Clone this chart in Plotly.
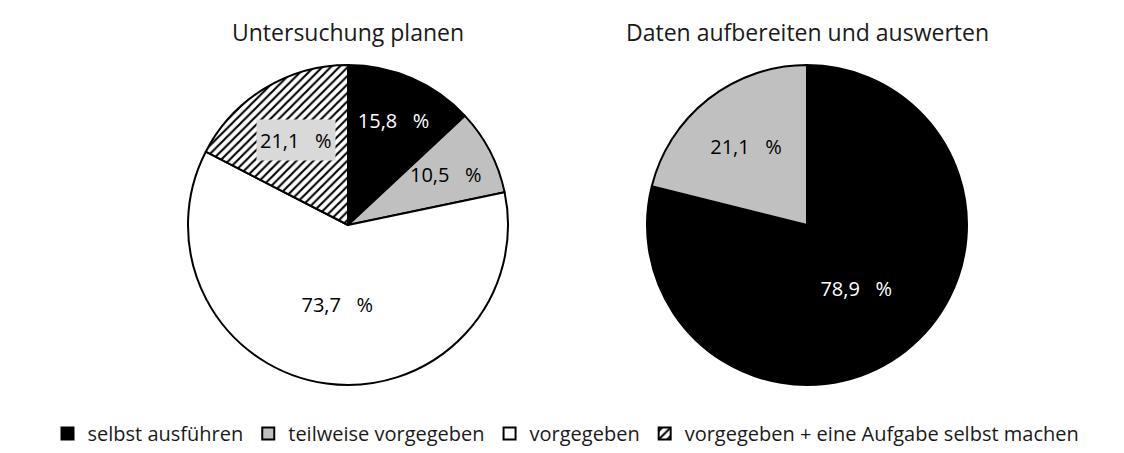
import math
import plotly.graph_objects as go

labels_left = ["selbst ausführen", "teilweise vorgegeben", "vorgegeben",
               "vorgegeben + eine Aufgabe selbst machen"]
values_left = [15.8, 10.5, 73.7, 21.1]
labels_right = ["selbst ausführen", "teilweise vorgegeben"]
values_right = [78.9, 21.1]
titles = ["Untersuchung planen", "Daten aufbereiten und auswerten"]

FONT = "Open Sans"
HATCH = "vorgegeben + eine Aufgabe selbst machen"
colors = {"selbst ausführen": "#000000", "teilweise vorgegeben": "#c0c0c0",
          "vorgegeben": "#ffffff", HATCH: "#ffffff"}
text_colors = {"selbst ausführen": "#ffffff", "teilweise vorgegeben": "#000000",
               "vorgegeben": "#000000", HATCH: "#000000"}
shapes = {HATCH: "/"}

SEP = "\u00a0\u00a0\u00a0"


def fmt(v):
    return f"{v:.1f}".replace(".", ",") + SEP + "%"


# page offset (browser body margin) and figure size
OFF = 8
W, H = 1124 - OFF, 453 - OFF
R = 160
centers = [(348 - OFF, 225 - OFF), (807 - OFF, 225 - OFF)]

# slices of the left pie whose labels are drawn as annotations (too small for
# plotly's inside text, or boxed): label -> (radius fraction, box colour)
ann_left = {"teilweise vorgegeben": (0.69, None), HATCH: (0.62, "#d9d9d9")}


def dom(c):
    cx, cy = c
    return [(cx - R) / W, (cx + R) / W], [1 - (cy + R) / H, 1 - (cy - R) / H]


def pie(labels, values, c, skip=()):
    dx, dy = dom(c)
    texts = ["" if l in skip else fmt(v) for l, v in zip(labels, values)]
    return go.Pie(
        labels=labels, values=values, sort=False, direction="clockwise", rotation=0,
        domain=dict(x=dx, y=dy),
        marker=dict(colors=[colors[l] for l in labels],
                    line=dict(color="#000000", width=2),
                    pattern=dict(shape=[shapes.get(l, "") for l in labels],
                                 fgcolor="#000000", bgcolor="#ffffff",
                                 size=6, solidity=0.35)),
        text=texts, textinfo="text",
        textposition="inside", insidetextorientation="horizontal",
        textfont=dict(family=FONT, size=20, color=[text_colors[l] for l in labels]),
        hoverinfo="label+value",
    )


fig = go.Figure()
fig.add_trace(pie(labels_left, values_left, centers[0], skip=ann_left.keys()))
fig.add_trace(pie(labels_right, values_right, centers[1]))

for t, (cx, _) in zip(titles, centers):
    fig.add_annotation(text=t, x=cx / W, y=1 - (32 - OFF) / H, xref="paper", yref="paper",
                       xanchor="center", yanchor="middle", showarrow=False,
                       font=dict(family=FONT, size=23, color="#1a1a1a"))

# annotation labels, placed at each slice's mid-angle
total = sum(values_left)
cx, cy = centers[0]
for lab, (frac, box) in ann_left.items():
    i = labels_left.index(lab)
    v = values_left[i]
    start = sum(values_left[:i])
    theta = (start + v / 2) / total * 2 * math.pi
    lx = cx + frac * R * math.sin(theta)
    ly = cy - frac * R * math.cos(theta)
    extra = dict(bgcolor=box, borderpad=3, height=34) if box else {}
    fig.add_annotation(text=fmt(v), x=lx / W, y=1 - ly / H, xref="paper", yref="paper",
                       xanchor="center", yanchor="middle", showarrow=False,
                       font=dict(family=FONT, size=20, color=text_colors[lab]), **extra)

fig.update_layout(
    width=W, height=H,
    margin=dict(l=0, r=0, t=0, b=0),
    paper_bgcolor="#ffffff", plot_bgcolor="#ffffff",
    font=dict(family=FONT, size=20, color="#1a1a1a"),
    legend=dict(orientation="h", x=0.5, xanchor="center", y=0.0, yanchor="bottom",
                font=dict(family=FONT, size=20, color="#1a1a1a"),
                itemwidth=30, traceorder="normal"),
)
fig.write_html("out.html")
